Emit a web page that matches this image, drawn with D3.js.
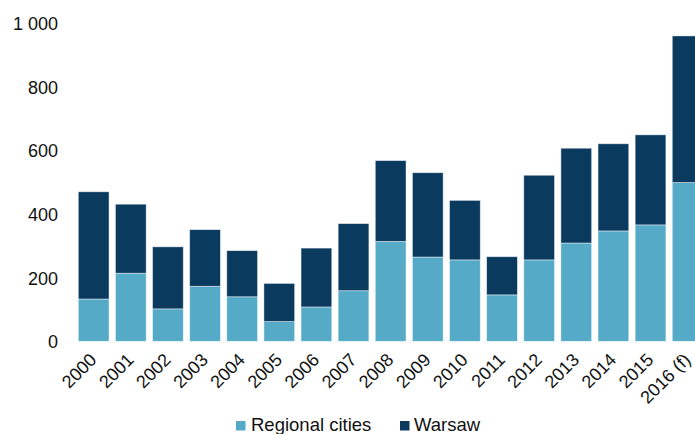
<!DOCTYPE html>
<html>
<head>
<meta charset="utf-8">
<script src="https://cdn.jsdelivr.net/npm/d3@7"></script>
<style>
  html, body { margin: 0; padding: 0; background: #fff; overflow: hidden; }
  svg { display: block; font-family: "Liberation Sans", Arial, sans-serif; }
</style>
</head>
<body>
<svg id="chart" width="695" height="434"></svg>
<script>
// Office completions by year, regional cities vs Warsaw (thousand sq m)
const years = ["2000","2001","2002","2003","2004","2005","2006","2007","2008",
               "2009","2010","2011","2012","2013","2014","2015","2016 (f)"];
const regionalCities = [133, 214, 102, 173, 140, 62, 108, 159, 314, 265, 256, 146, 256, 309, 347, 366, 499];
const warsaw = [337, 217, 195, 178, 145, 120, 185, 211, 254, 265, 187, 120, 266, 298, 274, 283, 461];
const seriesNames = ["Regional cities", "Warsaw"];
const seriesColors = ["#55aac7", "#0b3a5f"];
const yTicks = [0, 200, 400, 600, 800, 1000];

const svg = d3.select("#chart");

const x = d3.scaleBand()
  .domain(years)
  .range([75.1, 706.2])
  .paddingInner(0.172)
  .paddingOuter(0.086);

const y = d3.scaleLinear()
  .domain([0, 1000])
  .range([341.3, 23.2]);

const rows = years.map((yr, i) => ({ year: yr, "Regional cities": regionalCities[i], "Warsaw": warsaw[i] }));
const stacked = d3.stack().keys(seriesNames)(rows);

// stacked bars
svg.append("g")
  .selectAll("g")
  .data(stacked)
  .join("g")
    .attr("fill", (d, i) => seriesColors[i])
  .selectAll("rect")
  .data(d => d)
  .join("rect")
    .attr("x", d => x(d.data.year))
    .attr("width", x.bandwidth())
    .attr("y", d => y(d[1]))
    .attr("height", d => y(d[0]) - y(d[1]))
    .attr("stroke", "rgba(255,255,255,0.55)")
    .attr("stroke-width", 0.8);

// y axis labels (no line, no gridlines)
const fmt = v => d3.format(",")(v).replace(/,/g, " ");
const yAxis = d3.axisLeft(y).tickValues(yTicks).tickFormat(fmt).tickSize(0).tickPadding(0);
svg.append("g")
  .attr("transform", "translate(58,0)")
  .call(yAxis)
  .call(g => g.select(".domain").remove())
  .call(g => g.selectAll("text")
    .attr("font-size", 18)
    .attr("font-family", "Liberation Sans, Arial, sans-serif")
    .attr("fill", "#111")
    .attr("dy", "0.36em"));

// rotated category labels
svg.append("g")
  .selectAll("text")
  .data(years)
  .join("text")
    .attr("transform", d => `translate(${x(d) + x.bandwidth() / 2 + 4},${361}) rotate(-45)`)
    .attr("text-anchor", "end")
    .attr("font-size", 18)
    .attr("fill", "#111")
    .text(d => d);

// legend
const legendItems = [
  { name: seriesNames[0], color: seriesColors[0], sx: 236, tx: 251 },
  { name: seriesNames[1], color: seriesColors[1], sx: 400, tx: 414 }
];
const legend = svg.append("g");
legendItems.forEach(it => {
  legend.append("rect")
    .attr("x", it.sx).attr("y", 421)
    .attr("width", 9.5).attr("height", 9.5)
    .attr("fill", it.color);
  legend.append("text")
    .attr("x", it.tx).attr("y", 431)
    .attr("font-size", 18.5)
    .attr("fill", "#111")
    .text(it.name);
});
</script>
</body>
</html>
